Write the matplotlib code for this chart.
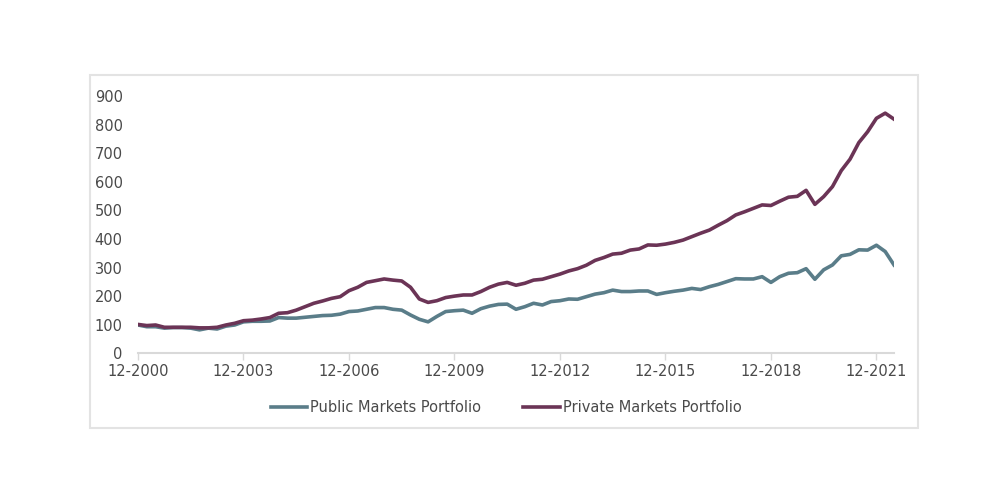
import matplotlib.pyplot as plt
from matplotlib.patches import Rectangle

# Quarterly index values, 12-2000 = 100, through 6-2022
public = [99, 93, 93, 88, 90, 90, 88, 82, 88, 85,
          95, 99, 110, 112, 112, 113, 125, 123, 123, 126,
          129, 132, 133, 137, 146, 148, 154, 160, 160, 154,
          151, 134, 119, 110, 129, 146, 149, 151, 140, 156,
          165, 171, 172, 154, 163, 175, 169, 181, 184, 190,
          189, 198, 207, 212, 221, 216, 216, 218, 218, 206,
          212, 217, 221, 227, 223, 233, 241, 251, 261, 260,
          260, 268, 248, 268, 280, 282, 296, 259, 292, 309,
          341, 346, 362, 361, 378, 356, 309]
private = [101, 97, 99, 91, 91, 91, 91, 89, 89, 91,
           99, 105, 114, 116, 120, 125, 140, 142, 151, 163,
           175, 183, 192, 198, 219, 231, 248, 254, 260, 256,
           253, 231, 190, 178, 184, 195, 200, 204, 204, 216,
           231, 242, 248, 238, 245, 256, 259, 268, 277, 288,
           296, 308, 325, 335, 347, 350, 361, 365, 379, 378,
           382, 388, 396, 408, 420, 431, 448, 464, 484, 495,
           507, 519, 517, 532, 546, 549, 570, 521, 548, 583,
           639, 679, 737, 775, 822, 840, 819]

tick_labels = ["12-2000", "12-2003", "12-2006", "12-2009",
               "12-2012", "12-2015", "12-2018", "12-2021"]

plt.rcParams["font.family"] = ["DejaVu Sans"]
text_color = "#4a4a4a"
fsize = 10.5

fig = plt.figure(figsize=(10, 5), dpi=100)
ax = fig.add_axes([0.138, 0.2934, 0.756, 0.5146])

x = list(range(len(public)))
ax.plot(x, public, color="#5a7d89", lw=2.6, label="Public Markets Portfolio",
        solid_joinstyle="round")
ax.plot(x, private, color="#6b3456", lw=2.6, label="Private Markets Portfolio",
        solid_joinstyle="round")

ax.set_xlim(0, len(public) - 1)
ax.set_ylim(0, 900)
ax.set_yticks(range(0, 1000, 100))
ax.set_xticks([i * 12 for i in range(len(tick_labels))])
ax.set_xticklabels(tick_labels)

for s in ["top", "right", "left"]:
    ax.spines[s].set_visible(False)
ax.spines["bottom"].set_color("#d9d9d9")
ax.spines["bottom"].set_linewidth(1.5)
ax.tick_params(axis="y", length=0, pad=11, labelsize=fsize, labelcolor=text_color)
ax.tick_params(axis="x", length=5, width=1, color="#d9d9d9", pad=3,
               labelsize=fsize, labelcolor=text_color)

leg = ax.legend(loc="center", bbox_to_anchor=(0.487, -0.21), ncol=2, frameon=False,
                fontsize=fsize, handlelength=2.5, handletextpad=0.2, columnspacing=2.9)
for t in leg.get_texts():
    t.set_color(text_color)

fig.patches.append(Rectangle((0.09, 0.144), 0.828, 0.706, transform=fig.transFigure,
                             fill=False, edgecolor="#e3e3e3", lw=1.5))

fig.savefig("out.png", dpi=100)
